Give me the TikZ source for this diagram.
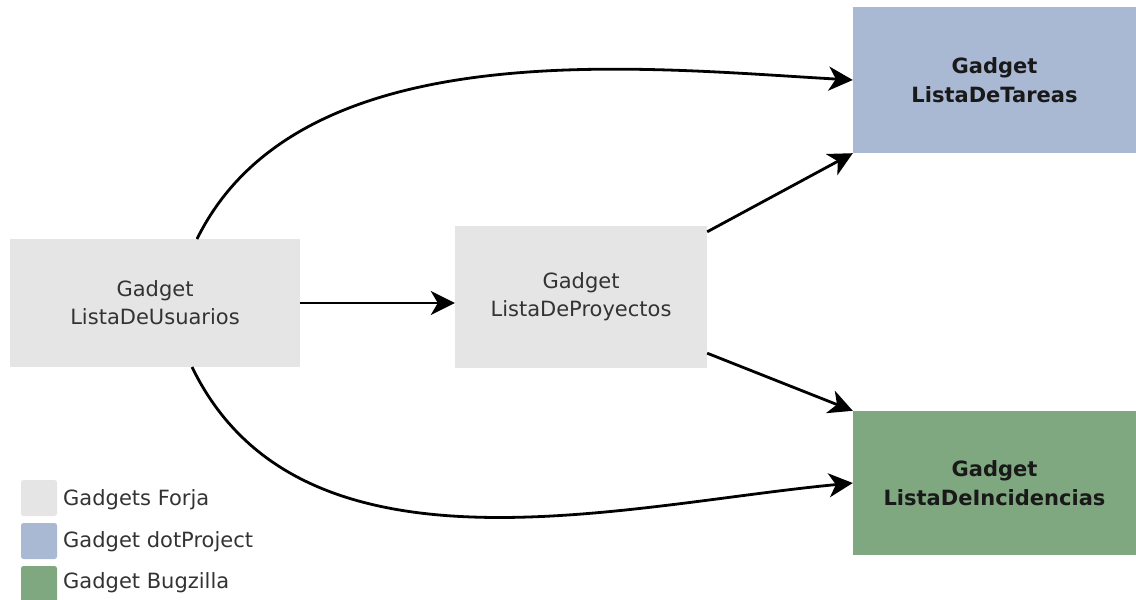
\documentclass[tikz,border=0pt]{standalone}
\usepackage{fontspec}
\setmainfont{DejaVu Sans}
\usetikzlibrary{arrows.meta}
\definecolor{forja}{HTML}{E5E5E5}
\definecolor{dotproj}{HTML}{A9B9D4}
\definecolor{bugz}{HTML}{80A880}
\definecolor{txt}{HTML}{333333}
\tikzset{
  gbox/.style={rectangle, inner sep=0pt, align=center, font=\fontsize{21}{28}\selectfont, text=txt},
  bbox/.style={rectangle, inner sep=0pt, align=center, font=\fontsize{21}{29}\selectfont\bfseries, text=black!90},
  conn/.style={line width=2.8pt, -{Stealth[length=24pt,width=24pt,inset=7pt]}},
  legsq/.style={rectangle, rounded corners=2.5pt, inner sep=0pt, minimum width=36pt},
  legtx/.style={anchor=west, inner sep=0pt, font=\fontsize{21}{24}\selectfont, text=txt},
}
\begin{document}
\begin{tikzpicture}[x=1pt,y=-1pt]
\useasboundingbox (0,0) rectangle (1136,600);
\node[gbox, fill=forja, minimum width=290pt, minimum height=128pt] (usu) at (155,303) {Gadget\\ListaDeUsuarios};
\node[gbox, fill=forja, minimum width=252pt, minimum height=142pt] (proy) at (581,297) {Gadget\\ListaDeProyectos};
\node[bbox, fill=dotproj, minimum width=283pt, minimum height=146pt] (tar) at (994.5,80) {Gadget\\ListaDeTareas};
\node[bbox, fill=bugz, minimum width=283pt, minimum height=144pt] (inc) at (994.5,483) {Gadget\\ListaDeIncidencias};
% connectors
\coordinate (usuT) at (197,239);
\coordinate (usuB) at (192,367);
\draw[conn] (usu.east) -- (usu.east -| proy.west);
\draw[conn] (usuT) .. controls (300,30) and (640,68) .. (tar.west);
\draw[conn] (usuB) .. controls (300,590) and (620,505) .. (inc.west);
\draw[conn] ([yshift=-6pt]proy.north east) -- (tar.south west);
\draw[conn] ([yshift=15pt]proy.south east) -- (inc.north west);
% legend
\node[legsq, fill=forja, minimum height=36pt] (l1) at (39,498) {};
\node[legsq, fill=dotproj, minimum height=36pt] (l2) at (39,541) {};
\node[legsq, fill=bugz, minimum height=36pt] (l3) at (39,584) {};
\node[legtx] (t1) at (63,500) {Gadgets Forja};
\node[legtx] (t2) at (63,542) {Gadget dotProject};
\node[legtx] (t3) at (63,583) {Gadget Bugzilla};
\end{tikzpicture}
\end{document}
